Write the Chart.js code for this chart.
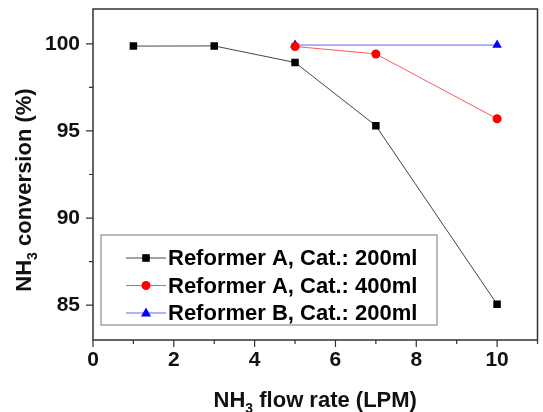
<!DOCTYPE html>
<html>
<head>
<meta charset="utf-8">
<script src="https://cdn.jsdelivr.net/npm/chart.js@4/dist/chart.umd.min.js"></script>
<style>
  html, body { margin: 0; padding: 0; background: #fff; }
  #wrap { width: 543px; height: 412px; }
</style>
</head>
<body>
<div id="wrap"><canvas id="conversionChart" width="543" height="412"></canvas></div>
<script>
// data
const flowA200 = [1, 3, 5, 7, 10];
const convA200 = [99.87, 99.88, 98.93, 95.3, 85.05];
const flowA400 = [5, 7, 10];
const convA400 = [99.85, 99.42, 95.7];
const flowB200 = [5, 10];
const convB200 = [99.93, 99.93];

const seriesNames = ['Reformer A, Cat.: 200ml', 'Reformer A, Cat.: 400ml', 'Reformer B, Cat.: 200ml'];
const xTickValues = [0, 2, 4, 6, 8, 10];
const yTickValues = [85, 90, 95, 100];

const FONT = '"Liberation Sans", Arial, sans-serif';

function toPoints(xs, ys) {
    return xs.map((x, i) => ({ x: x, y: ys[i] }));
}

// frame, minor/major ticks, axis titles with subscript, boxed legend
const decorations = {
    id: 'decorations',
    afterDraw(chart) {
        const ctx = chart.ctx;
        const area = chart.chartArea;
        const xs = chart.scales.x;
        const ys = chart.scales.y;

        ctx.save();
        ctx.strokeStyle = '#333';
        ctx.lineWidth = 1.5;
        ctx.strokeRect(area.left, area.top, area.right - area.left, area.bottom - area.top);

        ctx.lineWidth = 1.2;
        ctx.beginPath();
        for (let v = 0; v <= 11; v++) {
            const px = xs.getPixelForValue(v);
            const len = v % 2 === 0 ? 7 : 4;
            ctx.moveTo(px, area.bottom);
            ctx.lineTo(px, area.bottom + len);
        }
        for (let v = 85; v <= 100; v += 2.5) {
            const py = ys.getPixelForValue(v);
            const len = v % 5 === 0 ? 7 : 4;
            ctx.moveTo(area.left, py);
            ctx.lineTo(area.left - len, py);
        }
        ctx.stroke();

        // axis titles
        ctx.fillStyle = '#111';
        ctx.textBaseline = 'alphabetic';
        const big = 'bold 22px ' + FONT;
        const small = 'bold 14px ' + FONT;
        function subTitle(cx, pre, sub, post) {
            ctx.font = big;
            const w1 = ctx.measureText(pre).width;
            const w3 = ctx.measureText(post).width;
            ctx.font = small;
            const w2 = ctx.measureText(sub).width;
            let x = cx - (w1 + w2 + w3) / 2;
            ctx.font = big;
            ctx.textAlign = 'left';
            ctx.fillText(pre, x, 0);
            x += w1;
            ctx.font = small;
            ctx.fillText(sub, x, 6);
            x += w2;
            ctx.font = big;
            ctx.fillText(post, x, 0);
        }
        ctx.save();
        ctx.translate(0, 407);
        subTitle((area.left + area.right) / 2, 'NH', '3', ' flow rate (LPM)');
        ctx.restore();

        ctx.save();
        ctx.translate(31, 190);
        ctx.rotate(-Math.PI / 2);
        subTitle(0, 'NH', '3', ' conversion (%)');
        ctx.restore();

        // legend
        ctx.strokeStyle = '#777';
        ctx.lineWidth = 1;
        ctx.strokeRect(101, 235, 336, 90);
        const rows = [258, 285.5, 313];
        chart.data.datasets.forEach((ds, i) => {
            const y = rows[i];
            ctx.strokeStyle = ds.borderColor;
            ctx.lineWidth = 1;
            ctx.beginPath();
            ctx.moveTo(126, y);
            ctx.lineTo(166, y);
            ctx.stroke();
            ctx.fillStyle = ds.pointBackgroundColor;
            const mx = 146;
            ctx.beginPath();
            if (ds.pointStyle === 'rect') {
                ctx.rect(mx - 3.8, y - 3.8, 7.6, 7.6);
            } else if (ds.pointStyle === 'circle') {
                ctx.arc(mx, y, 4.5, 0, Math.PI * 2);
            } else {
                ctx.moveTo(mx, y - 5.5);
                ctx.lineTo(mx + 5, y + 3.5);
                ctx.lineTo(mx - 5, y + 3.5);
                ctx.closePath();
            }
            ctx.fill();
            ctx.fillStyle = '#000';
            ctx.font = 'bold 22px ' + FONT;
            ctx.textAlign = 'left';
            ctx.textBaseline = 'middle';
            ctx.fillText(seriesNames[i], 168, y + 1);
        });
        ctx.restore();
    }
};

const ctx = document.getElementById('conversionChart').getContext('2d');
new Chart(ctx, {
    type: 'scatter',
    data: {
        datasets: [{
            label: seriesNames[0],
            data: toPoints(flowA200, convA200),
            showLine: true,
            borderColor: '#444',
            borderWidth: 1,
            pointStyle: 'rect',
            pointRadius: 5.3,
            pointBackgroundColor: '#000',
            pointBorderWidth: 0
        }, {
            label: seriesNames[1],
            data: toPoints(flowA400, convA400),
            showLine: true,
            borderColor: 'rgba(255,70,70,0.9)',
            borderWidth: 1,
            pointStyle: 'circle',
            pointRadius: 4.5,
            pointBackgroundColor: '#ff0000',
            pointBorderWidth: 0
        }, {
            label: seriesNames[2],
            data: toPoints(flowB200, convB200),
            showLine: true,
            borderColor: 'rgba(80,80,255,0.9)',
            borderWidth: 1,
            pointStyle: 'triangle',
            pointRadius: 5.5,
            pointBackgroundColor: '#0000ff',
            pointBorderWidth: 0
        }]
    },
    options: {
        responsive: false,
        animation: false,
        layout: { padding: { top: 9, right: 4, left: 0, bottom: 0 } },
        plugins: {
            legend: { display: false },
            tooltip: { enabled: false }
        },
        scales: {
            x: {
                type: 'linear',
                min: 0,
                max: 11,
                grid: { display: false, drawTicks: false },
                border: { display: false },
                afterFit(scale) {
                    scale.height = 72;
                    scale.paddingLeft = 0;
                    scale.paddingRight = 0;
                },
                afterBuildTicks(scale) { scale.ticks = xTickValues.map(v => ({ value: v })); },
                ticks: {
                    padding: 8,
                    color: '#111',
                    font: { family: FONT, size: 21, weight: 'bold' }
                }
            },
            y: {
                type: 'linear',
                min: 83,
                max: 102,
                grid: { display: false, drawTicks: false },
                border: { display: false },
                afterFit(scale) {
                    scale.width = 93;
                    scale.paddingTop = 0;
                    scale.paddingBottom = 0;
                },
                afterBuildTicks(scale) { scale.ticks = yTickValues.map(v => ({ value: v })); },
                ticks: {
                    padding: 13,
                    color: '#111',
                    font: { family: FONT, size: 21, weight: 'bold' }
                }
            }
        }
    },
    plugins: [decorations]
});
</script>
</body>
</html>
